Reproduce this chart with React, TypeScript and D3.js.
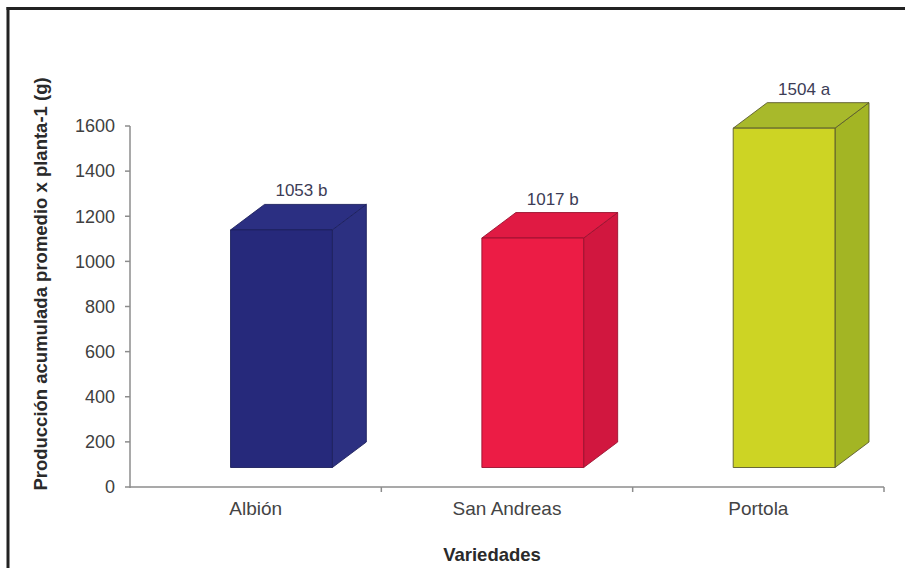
import React from "react";
import * as d3 from "d3";

const categories = ["Albión", "San Andreas", "Portola"];
const values = [1053, 1017, 1504];
const valueLabels = ["1053 b", "1017 b", "1504 a"];
const yTicks = [0, 200, 400, 600, 800, 1000, 1200, 1400, 1600];
const frontColors = ["#26297b", "#ec1c45", "#cdd424"];
const topColors = ["#2b2f82", "#e01a43", "#a8b92b"];
const sideColors = ["#2c3081", "#d1173f", "#a3b524"];
const edgeColors = ["#1d205e", "#9a1230", "#5a5a2c"];

const W = 905;
const H = 568;
const FONT = "'Liberation Sans', Arial, sans-serif";

export default function App() {
  const x = d3.scaleBand<string>().domain(categories).range([130, 884]).padding(0);
  const y = d3.scaleLinear().domain([0, 1600]).range([487, 126]);
  const bw = x.bandwidth();
  const lift = 19.5;
  const dx = 34;
  const dy = 25.5;

  return (
    <svg
      width={W}
      height={H}
      style={{ position: "absolute", left: 0, top: 0, background: "#fff" }}
    >
      <rect x={0} y={0} width={W} height={H} fill="#fff" />
      {/* frame */}
      <line x1={6.5} x2={W} y1={8.5} y2={8.5} stroke="#222" strokeWidth={3} />
      <line x1={8} x2={8} y1={7} y2={H} stroke="#222" strokeWidth={3} />

      {/* bars */}
      {categories.map((c, i) => {
        const x0 = (x(c) as number) + 0.4 * bw;
        const w = 0.405 * bw;
        const yb = y(0) - lift;
        const yt = y(values[i]) - lift;
        const front = `M${x0},${yt}L${x0 + w},${yt}L${x0 + w},${yb}L${x0},${yb}Z`;
        const top = `M${x0},${yt}L${x0 + dx},${yt - dy}L${x0 + w + dx},${yt - dy}L${x0 + w},${yt}Z`;
        const side = `M${x0 + w},${yt}L${x0 + w + dx},${yt - dy}L${x0 + w + dx},${yb - dy}L${x0 + w},${yb}Z`;
        return (
          <g key={c} strokeWidth={0.9} stroke={edgeColors[i]} strokeLinejoin="round">
            <path d={side} fill={sideColors[i]} />
            <path d={top} fill={topColors[i]} />
            <path d={front} fill={frontColors[i]} />
            <text
              x={x0 + (w + dx) / 2 + 3}
              y={yt - dy - 8}
              textAnchor="middle"
              fontFamily={FONT}
              fontSize={17}
              fill="#3c3c56"
              stroke="none"
            >
              {valueLabels[i]}
            </text>
          </g>
        );
      })}

      {/* y axis */}
      <line x1={130} x2={130} y1={y(1600)} y2={y(0) + 1} stroke="#8c8c8c" strokeWidth={1.5} />
      {yTicks.map((t) => (
        <g key={t}>
          <line x1={125} x2={130} y1={y(t)} y2={y(t)} stroke="#8c8c8c" strokeWidth={1.5} />
          <text
            x={115}
            y={y(t) + 6.3}
            textAnchor="end"
            fontFamily={FONT}
            fontSize={18}
            fill="#404040"
          >
            {t}
          </text>
        </g>
      ))}

      {/* x axis */}
      <line x1={130} x2={884} y1={y(0)} y2={y(0)} stroke="#8c8c8c" strokeWidth={1.5} />
      {categories.map((c) => (
        <line
          key={c + "t"}
          x1={(x(c) as number) + bw}
          x2={(x(c) as number) + bw}
          y1={y(0)}
          y2={y(0) + 5}
          stroke="#8c8c8c"
          strokeWidth={1.5}
        />
      ))}
      {categories.map((c) => (
        <text
          key={c + "l"}
          x={(x(c) as number) + bw / 2}
          y={515}
          textAnchor="middle"
          fontFamily={FONT}
          fontSize={19}
          fill="#444"
        >
          {c}
        </text>
      ))}

      {/* titles */}
      <text
        x={492}
        y={561}
        textAnchor="middle"
        fontFamily={FONT}
        fontWeight="bold"
        fontSize={18.5}
        fill="#2a2a2a"
      >
        Variedades
      </text>
      <text
        transform="translate(47,284) rotate(-90)"
        textAnchor="middle"
        fontFamily={FONT}
        fontWeight="bold"
        fontSize={18.5}
        fill="#2a2a2a"
      >
        Producción acumulada promedio x planta-1 (g)
      </text>
    </svg>
  );
}
